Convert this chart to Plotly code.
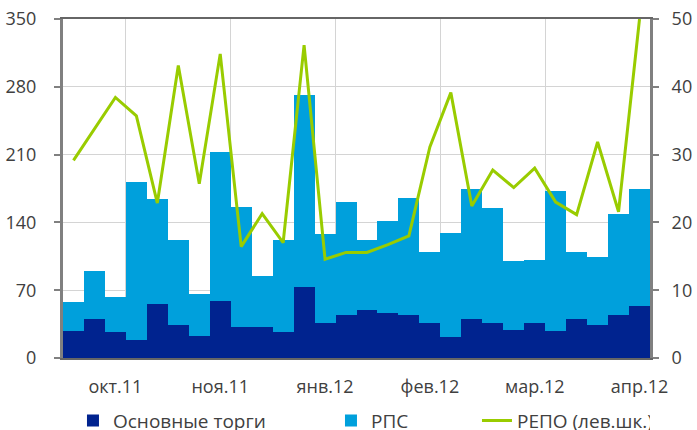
import plotly.graph_objects as go

# weekly observations, 28 weeks (Oct 2011 - Apr 2012)
weeks = list(range(1, 29))

# bars, right scale
osnovnye = [4.0, 5.7, 3.9, 2.6, 7.9, 4.9, 3.3, 8.4, 4.5, 4.5, 3.9, 10.4, 5.2, 6.3,
            7.1, 6.7, 6.3, 5.2, 3.1, 5.8, 5.2, 4.2, 5.2, 4.0, 5.7, 4.9, 6.3, 7.7]
rps = [4.3, 7.2, 5.1, 23.4, 15.5, 12.5, 6.1, 22.0, 17.7, 7.6, 13.5, 28.4, 13.1, 16.7,
       10.3, 13.5, 17.3, 10.5, 15.3, 19.2, 16.9, 10.1, 9.2, 20.6, 10.0, 10.0, 15.0, 17.3]

# line, left scale
repo = [204, 237, 269, 250, 160, 302, 180, 314, 115, 149, 119, 323, 102, 109,
        109, 117, 126, 218, 274, 157, 194, 176, 196, 161, 148, 223, 151, 350]

tick_pos = [3, 8, 13, 18, 23, 28]
tick_labels = ['окт.11', 'ноя.11', 'янв.12', 'фев.12', 'мар.12', 'апр.12']
grid_pos = [3.5, 8.5, 13.5, 18.5, 23.5, 28.5]

DARK = '#00238f'
LIGHT = '#00a0dc'
GREEN = '#99cc00'
TXT = '#404040'
AXIS = '#808080'

fig = go.Figure()
fig.add_trace(go.Bar(x=weeks, y=osnovnye, name='Основные торги', marker_color=DARK,
                     marker_line_width=0, legendwidth=213))
fig.add_trace(go.Bar(x=weeks, y=rps, name='РПС', marker_color=LIGHT,
                     marker_line_width=0, legendwidth=101))
fig.add_trace(go.Scatter(x=weeks, y=repo, name='РЕПО (лев.шк.)', mode='lines',
                         line=dict(color=GREEN, width=3), yaxis='y2',
                         cliponaxis=False, legendwidth=128))

fig.update_layout(
    width=697, height=430,
    margin=dict(l=63, r=47, t=19, b=72),
    paper_bgcolor='white', plot_bgcolor='white',
    barmode='stack', bargap=0,
    font=dict(family='Open Sans', size=18, color=TXT),
    xaxis=dict(range=[0.5, 28.5], tickvals=tick_pos, ticktext=tick_labels,
               showgrid=False, ticks='', zeroline=False, automargin=False,
               showline=True, mirror=True, linecolor='#666666', linewidth=2,
               layer='below traces', ticklabelstandoff=11,
               minor=dict(tickvals=grid_pos, showgrid=True, gridcolor='#d4d4d4',
                          gridwidth=1, ticks='')),
    # bars: right scale
    yaxis=dict(range=[0, 50], tickvals=[0, 10, 20, 30, 40, 50], side='right',
               showgrid=True, gridcolor='#d4d4d4', zeroline=False, automargin=False,
               showline=True, linecolor=AXIS, linewidth=3,
               ticks='outside', ticklen=6, tickwidth=2, tickcolor=AXIS,
               ticklabelstandoff=9),
    # line: left scale
    yaxis2=dict(range=[0, 350], tickvals=[0, 70, 140, 210, 280, 350], overlaying='y',
                side='left', showgrid=False, zeroline=False, automargin=False,
                showline=True, linecolor=AXIS, linewidth=3,
                ticks='outside', ticklen=6, tickwidth=2, tickcolor=AXIS,
                ticklabelstandoff=14),
    legend=dict(orientation='h', x=0.017, xanchor='left',
                yref='container', y=0.022, yanchor='middle',
                font=dict(size=19, color=TXT), traceorder='normal'),
    showlegend=True,
)

fig.write_html('out.html', config={'displayModeBar': False},
               post_script="document.body.style.margin='0';")
